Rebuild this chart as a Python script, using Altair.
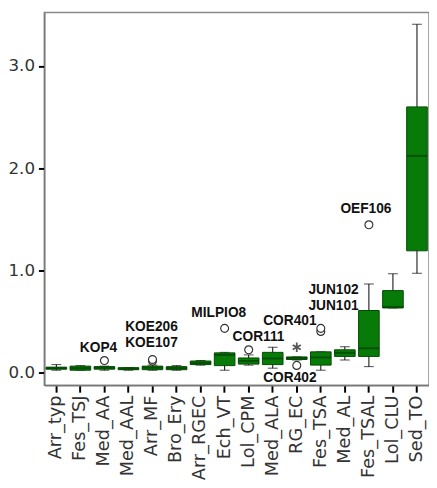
import altair as alt
import pandas as pd

cats = ["Arr_typ", "Fes_TSJ", "Med_AA", "Med_AAL", "Arr_MF", "Bro_Ery", "Arr_RGEC", "Ech_VT",
        "Lol_CPM", "Med_ALA", "RG_EC", "Fes_TSA", "Med_AL", "Fes_TSAL", "Lol_CLU", "Sed_TO"]
w_low = [0.02, 0.02, 0.02, 0.02, 0.02, 0.02, 0.07, 0.02, 0.07, 0.04, 0.12, 0.02, 0.12, 0.055, 0.63, 0.97]
q1 =    [0.03, 0.02, 0.03, 0.025, 0.025, 0.025, 0.075, 0.065, 0.08, 0.075, 0.125, 0.07, 0.155, 0.155, 0.63, 1.19]
med =   [0.04, 0.04, 0.045, 0.035, 0.045, 0.04, 0.09, 0.17, 0.11, 0.135, 0.14, 0.145, 0.19, 0.235, 0.64, 2.12]
q3 =    [0.05, 0.06, 0.055, 0.045, 0.06, 0.055, 0.11, 0.19, 0.14, 0.195, 0.15, 0.2, 0.22, 0.605, 0.80, 2.60]
w_high = [0.075, 0.065, 0.06, 0.045, 0.07, 0.065, 0.115, 0.195, 0.17, 0.245, 0.15, 0.2, 0.25, 0.865, 0.965, 3.41]

out_cat = ["Med_AA", "Arr_MF", "Arr_MF", "Ech_VT", "Lol_CPM", "RG_EC", "Fes_TSA", "Fes_TSA", "Fes_TSAL"]
out_val = [0.115, 0.11, 0.125, 0.43, 0.22, 0.067, 0.40, 0.43, 1.445]

ext_cat = ["RG_EC"]
ext_val = [0.245]

lab_text = ["KOP4", "KOE206", "KOE107", "MILPIO8", "COR111", "COR401", "COR402", "JUN102", "JUN101", "OEF106"]
lab_cat = ["Med_AA", "Arr_MF", "Arr_MF", "Ech_VT", "Lol_CPM", "RG_EC", "RG_EC", "Fes_TSA", "Fes_TSA", "Fes_TSAL"]
lab_val = [0.237, 0.439, 0.286, 0.584, 0.343, 0.497, -0.061, 0.805, 0.651, 1.603]
lab_dx = [-6, -1, -1, -6, 10, -7, -7, 13, 13, -3]

y_ticks = [0, 1, 2, 3]

box_df = pd.DataFrame({"cat": cats, "lo": w_low, "q1": q1, "med": med, "q3": q3, "hi": w_high})
out_df = pd.DataFrame({"cat": out_cat, "v": out_val})
ext_df = pd.DataFrame({"cat": ext_cat, "v": ext_val})

xs = alt.X("cat:N", sort=cats, title=None,
           scale=alt.Scale(paddingInner=0, paddingOuter=0),
           axis=alt.Axis(labelAngle=-90, labelFont="DejaVu Sans", labelFontSize=18,
                         labelColor="#333", tickColor="black", tickWidth=2, tickSize=7,
                         domainColor="#777", domainWidth=1.5, labelPadding=3))
ysc = alt.Scale(domain=[-0.128, 3.526], nice=False, zero=False)
yax = alt.Axis(values=y_ticks, format=".1f", grid=False, labelFont="DejaVu Sans",
               labelFontSize=17, labelColor="#333", tickColor="black", tickWidth=2,
               tickSize=6, domainColor="#777", domainWidth=1.5, labelPadding=4)

base = alt.Chart(box_df)
whisk = base.mark_rule(color="black", strokeWidth=1).encode(
    x=xs, y=alt.Y("lo:Q", scale=ysc, axis=yax, title=None), y2="hi:Q")
cap_lo = base.mark_tick(color="black", size=10, thickness=1).encode(x=xs, y=alt.Y("lo:Q"))
cap_hi = base.mark_tick(color="black", size=10, thickness=1).encode(x=xs, y=alt.Y("hi:Q"))
box = base.mark_bar(size=21, fill="#087a08", stroke="#034a03", strokeWidth=1).encode(
    x=xs, y="q1:Q", y2="q3:Q")
median = base.mark_tick(color="#024002", size=21, thickness=2).encode(x=xs, y="med:Q")

outl = alt.Chart(out_df).mark_point(shape="circle", filled=False, size=65, color="#333",
                                    fill="white", fillOpacity=1, strokeWidth=1.2).encode(
    x=xs, y="v:Q")
ext = alt.Chart(ext_df).mark_point(
    shape="M0,-1L0,1M-0.87,-0.5L0.87,0.5M-0.87,0.5L0.87,-0.5",
    filled=False, size=90, color="#111", strokeWidth=1.8).encode(x=xs, y="v:Q")

layers = [whisk, cap_lo, cap_hi, box, median, outl, ext]
for t, c, v, d in zip(lab_text, lab_cat, lab_val, lab_dx):
    ldf = pd.DataFrame({"cat": [c], "v": [v], "t": [t]})
    layers.append(alt.Chart(ldf).mark_text(
        font="Liberation Sans", fontWeight="bold", fontSize=14, color="#111",
        baseline="middle", align="center", dx=d).encode(x=xs, y="v:Q", text="t:N"))

chart = alt.layer(*layers).properties(
    width=392, height=380,
    autosize=alt.AutoSizeParams(type="none"),
    padding={"left": 37, "top": 0, "right": 0, "bottom": 92},
).configure_view(stroke="#888", strokeWidth=1.5)

chart.save("out.html", embed_options={"renderer": "svg", "actions": False})
